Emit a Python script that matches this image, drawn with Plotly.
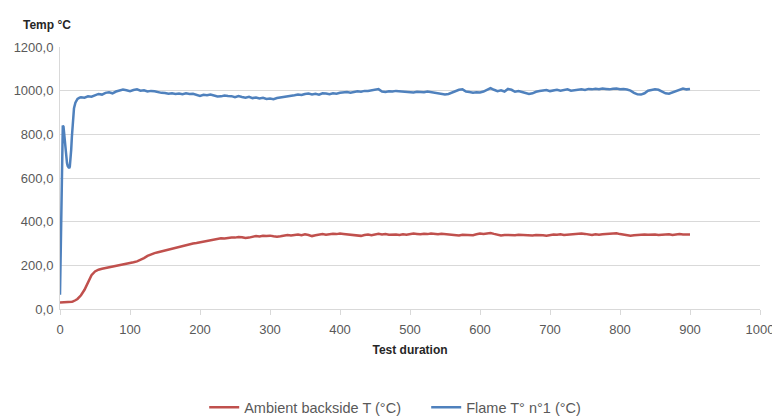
import plotly.graph_objects as go

time_s = [0, 1, 2, 3, 4, 5, 6, 7, 8, 9, 10, 11, 12, 13, 14, 15, 16, 17, 18, 19, 20, 22, 25, 28, 30,
          35, 40, 45, 50, 55, 60, 65, 70, 75, 80, 85, 90, 95, 100, 105, 110, 115, 120, 125, 130,
          135, 140, 145, 150, 155, 160, 165, 170, 175, 180, 185, 190, 195, 200, 205, 210, 215,
          220, 225, 230, 235, 240, 245, 250, 255, 260, 265, 270, 275, 280, 285, 290, 295, 300,
          305, 310, 315, 320, 325, 330, 335, 340, 345, 350, 355, 360, 365, 370, 375, 380, 385,
          390, 395, 400, 405, 410, 415, 420, 425, 430, 435, 440, 445, 450, 455, 460, 465, 470,
          475, 480, 485, 490, 495, 500, 505, 510, 515, 520, 525, 530, 535, 540, 545, 550, 555,
          560, 565, 570, 575, 580, 585, 590, 595, 600, 605, 610, 615, 620, 625, 630, 635, 640,
          645, 650, 655, 660, 665, 670, 675, 680, 685, 690, 695, 700, 705, 710, 715, 720, 725,
          730, 735, 740, 745, 750, 755, 760, 765, 770, 775, 780, 785, 790, 795, 800, 805, 810,
          815, 820, 825, 830, 835, 840, 845, 850, 855, 860, 865, 870, 875, 880, 885, 890, 895, 900]

ambient_backside = [30, 30, 30, 30, 30, 30, 30, 30, 30, 31, 31, 31, 31, 31, 32, 32, 33, 33, 34, 35, 37, 40, 46, 55, 63,
                    88, 122, 155, 172, 180, 184, 187, 190, 193, 196, 199, 203, 207, 210, 214, 218, 224, 233, 243, 250,
                    256, 260, 264, 268, 273, 278, 283, 287, 291, 295, 298, 300, 302, 305, 308, 311, 315,
                    319, 322, 324, 323, 326, 328, 327, 330, 329, 325, 327, 331, 334, 332, 335, 334, 336,
                    333, 331, 333, 336, 339, 337, 340, 341, 338, 342, 339, 334, 338, 341, 343, 340, 342,
                    345, 343, 346, 344, 342, 339, 337, 336, 335, 339, 341, 338, 342, 344, 341, 343, 340,
                    342, 341, 339, 342, 340, 343, 346, 344, 342, 345, 343, 346, 344, 342, 345, 343, 340,
                    338, 336, 337, 340, 339, 341, 338, 342, 346, 344, 347, 348, 344, 341, 337, 339, 338,
                    336, 338, 340, 339, 341, 338, 337, 339, 340, 338, 336, 339, 341, 340, 342, 339, 341,
                    343, 342, 344, 346, 344, 341, 339, 342, 340, 342, 344, 343, 345, 347, 343, 340, 337,
                    336, 338, 340, 339, 341, 340, 342, 341, 339, 341, 343, 342, 339, 341, 343, 341, 340, 341]

flame_t1 = [65, 300, 560, 760, 840, 835, 800, 760, 720, 690, 668, 655, 648, 645, 652, 680, 730, 790, 850, 895, 920, 945, 962, 968, 970,
            968, 974, 972, 980, 985, 982, 990, 993, 988, 996, 1000, 1005, 1002, 998, 1003, 1006, 1000, 1002, 996, 999,
            997, 993, 990, 989, 986, 988, 985, 987, 984, 988, 985, 986, 980, 976, 981, 979, 982,
            976, 973, 974, 978, 976, 975, 970, 975, 971, 968, 972, 966, 969, 964, 967, 962, 964,
            961, 966, 968, 972, 975, 974, 979, 982, 980, 985, 987, 983, 986, 982, 988, 987, 984,
            988, 986, 990, 993, 994, 991, 995, 997, 995, 999, 998, 1000, 1002, 1007, 996, 994, 997,
            996, 999, 998, 997, 993, 994, 992, 995, 994, 993, 996, 994, 992, 990, 988, 983, 985,
            992, 998, 1004, 1006, 996, 994, 991, 993, 992, 996, 1006, 1012, 1004, 998, 1002, 996, 1008,
            1004, 995, 998, 994, 990, 985, 988, 995, 998, 1000, 1003, 998, 1002, 1004, 1000, 1003, 1006,
            1000, 1003, 1005, 1006, 1003, 1008, 1006, 1009, 1007, 1010, 1008, 1006, 1009, 1010, 1007, 1008, 1005,
            1000, 990, 983, 982, 988, 1000, 1004, 1006, 1004, 996, 988, 986, 992, 998, 1004, 1010, 1006, 1008]

y_ticks = [0, 200, 400, 600, 800, 1000, 1200]
x_ticks = [0, 100, 200, 300, 400, 500, 600, 700, 800, 900, 1000]

FONT = "Liberation Sans"
GRID = "#d9d9d9"
TXT = "#595959"

fig = go.Figure()
fig.add_trace(go.Scatter(x=time_s, y=ambient_backside, mode="lines",
                         name="Ambient backside T (°C)",
                         line=dict(color="#c0504d", width=2.5)))
fig.add_trace(go.Scatter(x=time_s, y=flame_t1, mode="lines",
                         name="Flame T° n°1 (°C)",
                         line=dict(color="#4f81bd", width=2.5)))

fig.update_layout(
    width=772, height=417,
    margin=dict(l=60, r=12, t=47, b=108, autoexpand=False),
    paper_bgcolor="white", plot_bgcolor="white",
    separators=",.",
    font=dict(family=FONT, size=13, color=TXT),
    showlegend=True,
    legend=dict(orientation="h", x=0.206, xanchor="left", y=-0.375, yanchor="middle",
                font=dict(family=FONT, size=14.5, color=TXT), traceorder="normal",
                itemwidth=30, entrywidth=177, bgcolor="rgba(0,0,0,0)"),
    xaxis=dict(range=[0, 1000], tickvals=x_ticks, showgrid=False,
               showline=True, linecolor=GRID, linewidth=1,
               ticks="outside", ticklen=5, tickcolor=GRID,
               ticklabelstandoff=3, ticklabeloverflow="allow",
               tickfont=dict(family=FONT, size=13, color=TXT),
               title=dict(text="<b>Test duration</b>", font=dict(family=FONT, size=12, color="#262626"),
                          standoff=10),
               zeroline=False, automargin=False),
    yaxis=dict(range=[0, 1200], tickvals=y_ticks, tickformat=".1f",
               showgrid=True, gridcolor=GRID, gridwidth=1,
               showline=True, linecolor=GRID, linewidth=1,
               ticks="", ticklabelstandoff=3,
               tickfont=dict(family=FONT, size=13, color=TXT),
               zeroline=False, automargin=False),
    annotations=[dict(text="<b>Temp °C</b>", xref="paper", yref="paper",
                      x=-0.056, y=1.05, xanchor="left", yanchor="bottom", showarrow=False,
                      font=dict(family=FONT, size=12, color="#262626"))],
)

fig.write_html("out.html", config={"displayModeBar": False},
               post_script="document.body.style.margin='0';")
